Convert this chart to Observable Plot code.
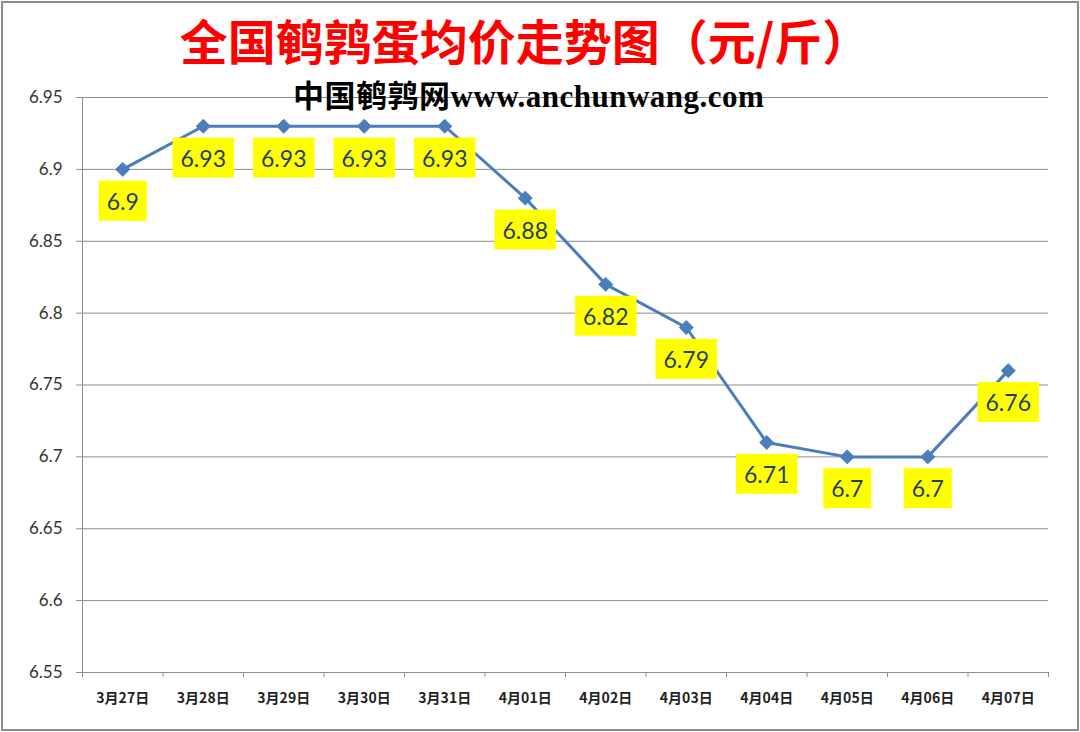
<!DOCTYPE html>
<html><head><meta charset="utf-8">
<script src="https://cdn.jsdelivr.net/npm/d3@7"></script>
<script src="https://cdn.jsdelivr.net/npm/@observablehq/plot@0.6"></script>
<style>
html,body{margin:0;padding:0;background:#fff;}
#wrap{position:relative;width:1080px;height:732px;overflow:hidden;background:#fff;}
#wrap svg{position:absolute;left:0;top:0;}
#frame{position:absolute;left:1px;top:1px;width:1078px;height:730px;box-sizing:border-box;border:2px solid #8c8c8c;pointer-events:none;}
#title{position:absolute;left:0;width:1050px;top:10px;text-align:center;font:700 48px "Noto Sans CJK SC";color:#ff0000;line-height:58px;white-space:nowrap;}
#sub{position:absolute;left:293px;top:79px;font:700 31px "Liberation Serif","Noto Sans CJK SC";letter-spacing:0.5px;color:#000;line-height:36px;white-space:nowrap;}
</style></head>
<body>
<div id="wrap"></div>
<script>
const titleText = "全国鹌鹑蛋均价走势图（元/斤）";
const subtitleText = "中国鹌鹑网www.anchunwang.com";
const dates = ["3月27日","3月28日","3月29日","3月30日","3月31日","4月01日","4月02日","4月03日","4月04日","4月05日","4月06日","4月07日"];
const prices = [6.9, 6.93, 6.93, 6.93, 6.93, 6.88, 6.82, 6.79, 6.71, 6.7, 6.7, 6.76];
const yTicks = [6.55, 6.6, 6.65, 6.7, 6.75, 6.8, 6.85, 6.9, 6.95];

const idx = dates.map((d, i) => i);
const bounds = d3.range(dates.length + 1).map(i => i - 0.5);
const data = dates.map((d, i) => ({i, date: d, price: prices[i]}));
const blue = "#4a7ebb";
const gridColor = "#8c8c8c";

const chart = Plot.plot({
  width: 1080, height: 732,
  marginLeft: 82, marginRight: 32, marginTop: 97, marginBottom: 60,
  x: {type: "linear", domain: [bounds[0], bounds[bounds.length - 1]]},
  y: {domain: [yTicks[0], yTicks[yTicks.length - 1]]},
  style: {background: "transparent", fontFamily: "Lato", overflow: "visible"},
  marks: [
    Plot.ruleY(yTicks, {stroke: gridColor, strokeWidth: 1}),
    Plot.ruleX([bounds[0]], {stroke: gridColor, strokeWidth: 1}),
    Plot.axisY(yTicks, {tickSize: 6, tickPadding: 14, tickFormat: d => String(+d.toFixed(2)), fontSize: 17, fill: "#333", stroke: gridColor, strokeOpacity: 1, label: null}),
    Plot.axisX(bounds, {tickSize: 5, tickFormat: () => "", stroke: gridColor, strokeOpacity: 1, label: null}),
    Plot.axisX(idx, {tickSize: 0, tickPadding: 21, tickFormat: i => dates[i], fontSize: 14, fontWeight: 700, fontFamily: "Noto Sans CJK SC", fill: "#222", label: null}),
    Plot.line(data, {x: "i", y: "price", stroke: blue, strokeWidth: 3}),
    Plot.dot(data, {x: "i", y: "price", symbol: "diamond2", r: 6.3, fill: blue, stroke: blue, strokeWidth: 1}),
    Plot.text(data, {x: "i", y: "price", text: d => String(d.price), dy: 33, fontSize: 23, fill: "#243f66", fontFamily: "Lato"})
  ]
});

const wrap = document.getElementById("wrap");
wrap.appendChild(chart);

// yellow label boxes behind the data labels
const groups = chart.querySelectorAll('g[aria-label="text"]');
const lg = groups[groups.length - 1];
if (lg) {
  lg.querySelectorAll("text").forEach(t => {
    const b = t.getBBox();
    const r = document.createElementNS("http://www.w3.org/2000/svg", "rect");
    r.setAttribute("x", b.x - 8);
    r.setAttribute("y", b.y + b.height / 2 - 20);
    r.setAttribute("width", b.width + 16);
    r.setAttribute("height", 40);
    r.setAttribute("fill", "#ffff00");
    const tr = t.getAttribute("transform");
    if (tr) r.setAttribute("transform", tr);
    t.parentNode.insertBefore(r, t);
  });
}

const title = document.createElement("div");
title.id = "title"; title.textContent = titleText; wrap.appendChild(title);
const sub = document.createElement("div");
sub.id = "sub"; sub.textContent = subtitleText; wrap.appendChild(sub);
const frame = document.createElement("div");
frame.id = "frame"; wrap.appendChild(frame);
</script>
</body></html>
